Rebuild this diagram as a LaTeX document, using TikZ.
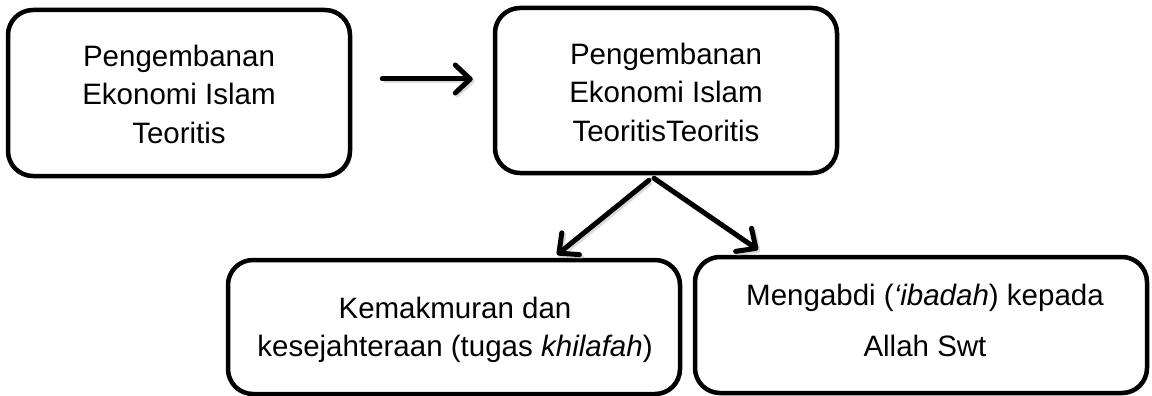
\documentclass[tikz,border=0pt]{standalone}
\usepackage{fontspec}
\setmainfont{Liberation Sans}
\usetikzlibrary{arrows.meta,shadows}
\tikzset{
  box/.style={draw, line width=4.5pt, rounded corners=25pt, fill=white,
    drop shadow={opacity=0.25, shadow xshift=2pt, shadow yshift=-2pt}},
  txt/.style={align=center, inner sep=0pt, font=\fontsize{29.5}{38.5}\selectfont},
  arr/.style={line width=5pt, line cap=round,
    -{Straight Barb[length=15pt, width=28pt, round]},
    preaction={draw=black!40, opacity=0.35, line width=5pt,
      transform canvas={shift={(2pt,-2pt)}}}}
}
\begin{document}
\begin{tikzpicture}[x=1pt,y=-1pt]
\useasboundingbox (0,0) rectangle (1152,396);
% boxes
\node[box, minimum width=342pt, minimum height=166pt] (b1) at (179,93) {};
\node[box, minimum width=342pt, minimum height=165pt] (b2) at (666,90.5) {};
\node[box, minimum width=452pt, minimum height=134pt] (b3) at (454,327) {};
\node[box, minimum width=452pt, minimum height=136pt] (b4) at (921,325) {};
% texts
\node[txt] (t1) at (179,94) {Pengembanan\\Ekonomi Islam\\Teoritis};
\node[txt] (t2) at (666,92) {Pengembanan\\Ekonomi Islam\\TeoritisTeoritis};
\node[txt] (t3) at (455,330) {Kemakmuran dan\\kesejahteraan (tugas \textit{khilafah})};
\node[txt, font=\fontsize{29.5}{51}\selectfont] (t4) at (925,320) {Mengabdi (\textit{‘ibadah}) kepada\\Allah Swt};
% arrows
\draw[arr, shorten <=30pt, shorten >=20pt] (b1.east |- 0,79) -- (b2.west |- 0,79);
\draw[arr] ([xshift=-17pt,yshift=-5pt]b2.south) -- ([xshift=103pt,yshift=3pt]b3.north);
\draw[arr] ([xshift=-12pt,yshift=-3pt]b2.south) -- ([xshift=-163pt,yshift=5pt]b4.north);
\end{tikzpicture}
\end{document}
